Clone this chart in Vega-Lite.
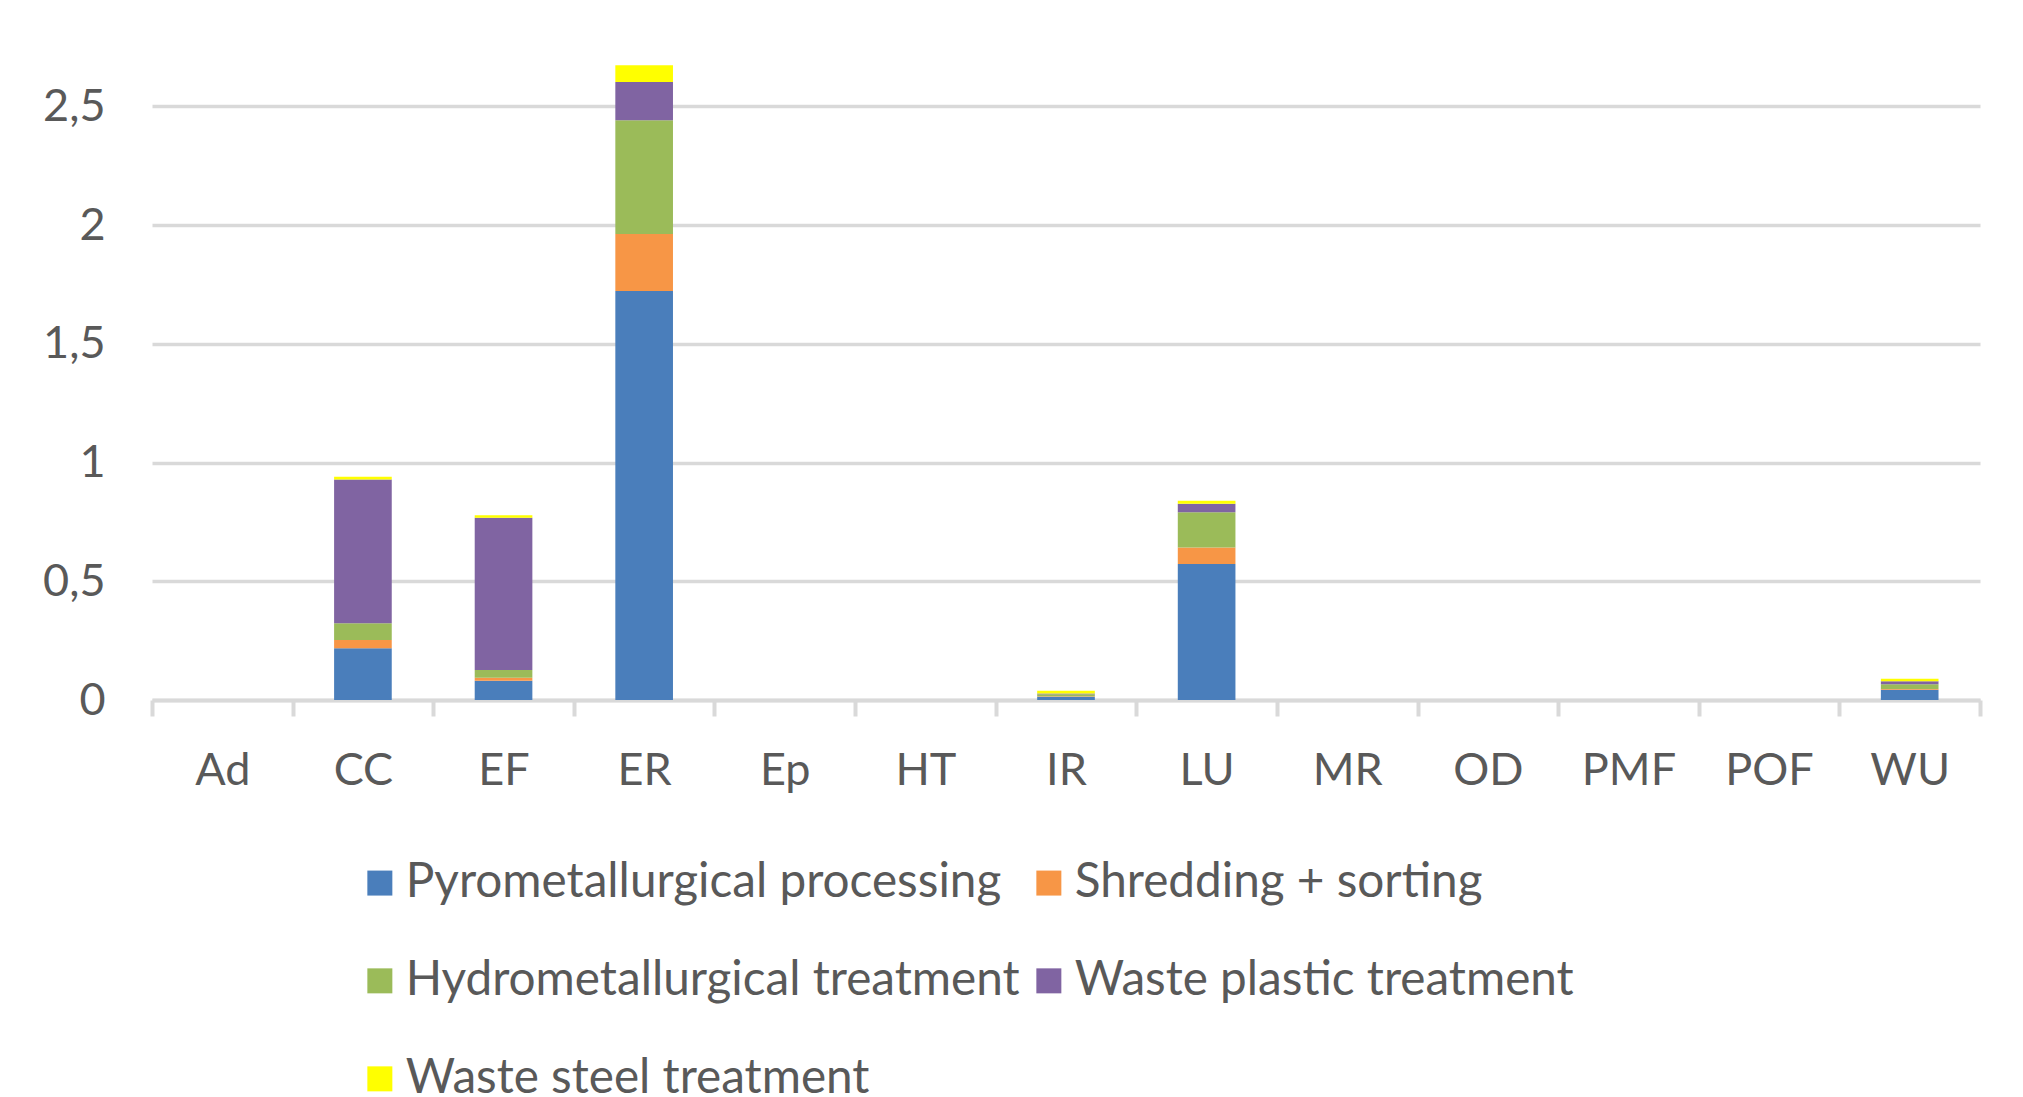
{
  "$schema": "https://vega.github.io/schema/vega-lite/v6.json",
  "width": 1828,
  "height": 653,
  "autosize": {"type": "none"},
  "padding": {"left": 152, "top": 47, "right": 43, "bottom": 397},
  "background": "white",
  "config": {
    "view": {"stroke": null},
    "font": "Lato",
    "axis": {"labelFont": "Lato", "labelColor": "#595959", "labelFontSize": 45}
  },
  "data": {
    "values": [
      {"category": "Ad", "process": "Pyrometallurgical processing", "value": 0},
      {"category": "CC", "process": "Pyrometallurgical processing", "value": 0.218},
      {"category": "CC", "process": "Shredding + sorting", "value": 0.035},
      {"category": "CC", "process": "Hydrometallurgical treatment", "value": 0.07},
      {"category": "CC", "process": "Waste plastic treatment", "value": 0.606},
      {"category": "CC", "process": "Waste steel treatment", "value": 0.011},
      {"category": "EF", "process": "Pyrometallurgical processing", "value": 0.081},
      {"category": "EF", "process": "Shredding + sorting", "value": 0.013},
      {"category": "EF", "process": "Hydrometallurgical treatment", "value": 0.032},
      {"category": "EF", "process": "Waste plastic treatment", "value": 0.641},
      {"category": "EF", "process": "Waste steel treatment", "value": 0.011},
      {"category": "ER", "process": "Pyrometallurgical processing", "value": 1.722},
      {"category": "ER", "process": "Shredding + sorting", "value": 0.24},
      {"category": "ER", "process": "Hydrometallurgical treatment", "value": 0.48},
      {"category": "ER", "process": "Waste plastic treatment", "value": 0.161},
      {"category": "ER", "process": "Waste steel treatment", "value": 0.07},
      {"category": "Ep", "process": "Pyrometallurgical processing", "value": 0},
      {"category": "HT", "process": "Pyrometallurgical processing", "value": 0},
      {"category": "IR", "process": "Pyrometallurgical processing", "value": 0.014},
      {"category": "IR", "process": "Shredding + sorting", "value": 0.002},
      {"category": "IR", "process": "Hydrometallurgical treatment", "value": 0.008},
      {"category": "IR", "process": "Waste plastic treatment", "value": 0.003},
      {"category": "IR", "process": "Waste steel treatment", "value": 0.012},
      {"category": "LU", "process": "Pyrometallurgical processing", "value": 0.573},
      {"category": "LU", "process": "Shredding + sorting", "value": 0.069},
      {"category": "LU", "process": "Hydrometallurgical treatment", "value": 0.149},
      {"category": "LU", "process": "Waste plastic treatment", "value": 0.035},
      {"category": "LU", "process": "Waste steel treatment", "value": 0.013},
      {"category": "MR", "process": "Pyrometallurgical processing", "value": 0},
      {"category": "OD", "process": "Pyrometallurgical processing", "value": 0},
      {"category": "PMF", "process": "Pyrometallurgical processing", "value": 0},
      {"category": "POF", "process": "Pyrometallurgical processing", "value": 0},
      {"category": "WU", "process": "Pyrometallurgical processing", "value": 0.043},
      {"category": "WU", "process": "Shredding + sorting", "value": 0.003},
      {"category": "WU", "process": "Hydrometallurgical treatment", "value": 0.02},
      {"category": "WU", "process": "Waste plastic treatment", "value": 0.013},
      {"category": "WU", "process": "Waste steel treatment", "value": 0.011}
    ]
  },
  "transform": [
    {"calculate": "indexof(['Pyrometallurgical processing', 'Shredding + sorting', 'Hydrometallurgical treatment', 'Waste plastic treatment', 'Waste steel treatment'], datum.process)", "as": "stackRank"}
  ],
  "mark": {"type": "bar", "strokeWidth": 0, "width": {"band": 0.41}},
  "encoding": {
    "x": {
      "field": "category",
      "type": "nominal",
      "sort": ["Ad", "CC", "EF", "ER", "Ep", "HT", "IR", "LU", "MR", "OD", "PMF", "POF", "WU"],
      "scale": {"paddingInner": 0, "paddingOuter": 0},
      "axis": {
        "title": null,
        "labelAngle": 0,
        "domain": true,
        "domainColor": "#d9d9d9",
        "domainWidth": 4,
        "ticks": true,
        "tickBand": "extent",
        "tickColor": "#d9d9d9",
        "tickWidth": 4,
        "tickSize": 16,
        "labelPadding": 32,
        "grid": false
      }
    },
    "y": {
      "field": "value",
      "type": "quantitative",
      "stack": "zero",
      "scale": {"domain": [0, 2.75], "nice": false},
      "axis": {
        "title": null,
        "values": [0, 0.5, 1, 1.5, 2, 2.5],
        "labelExpr": "replace(format(datum.value, '.1~f'), '.', ',')",
        "domain": false,
        "ticks": false,
        "grid": true,
        "gridColor": "#d9d9d9",
        "gridWidth": 3.5,
        "labelPadding": 47
      }
    },
    "color": {
      "field": "process",
      "type": "nominal",
      "sort": ["Pyrometallurgical processing", "Shredding + sorting", "Hydrometallurgical treatment", "Waste plastic treatment", "Waste steel treatment"],
      "scale": {
        "domain": ["Pyrometallurgical processing", "Shredding + sorting", "Hydrometallurgical treatment", "Waste plastic treatment", "Waste steel treatment"],
        "range": ["#4a7ebb", "#f79646", "#9bbb59", "#8064a2", "#ffff00"]
      },
      "legend": {
        "title": null,
        "orient": "none",
        "legendX": 204,
        "legendY": 812,
        "columns": 2,
        "direction": "horizontal",
        "padding": 0,
        "symbolType": "square",
        "symbolSize": 625,
        "symbolStrokeWidth": 0,
        "labelFont": "Lato",
        "labelFontSize": 47.7,
        "labelColor": "#595959",
        "labelOffset": 2,
        "labelLimit": 0,
        "rowPadding": 49,
        "columnPadding": 5
      }
    },
    "order": {"field": "stackRank", "type": "quantitative", "sort": "ascending"}
  }
}
